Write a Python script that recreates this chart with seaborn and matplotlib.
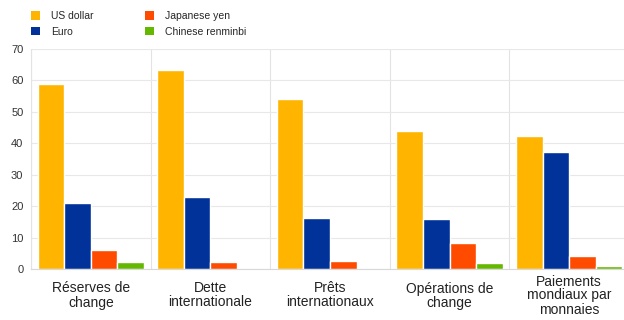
import matplotlib
matplotlib.use("Agg")
import matplotlib.pyplot as plt
import matplotlib.transforms as mtransforms
import seaborn as sns
import pandas as pd
import numpy as np
from matplotlib.patches import Patch

categories = ["Réserves de\nchange", "Dette\ninternationale", "Prêts\ninternationaux",
              "Opérations de\nchange", "Paiements\nmondiaux par\nmonnaies"]
series = ["US dollar", "Euro", "Japanese yen", "Chinese renminbi"]
usd = [59.0, 63.2, 54.1, 43.9, 42.3]
eur = [21.0, 22.8, 16.3, 16.0, 37.2]
jpy = [5.9, 2.2, 2.5, 8.3, 4.1]
cny = [2.2, 0.0, 0.0, 2.0, 1.1]
colors = ["#FFB400", "#003299", "#FF4B00", "#65B800"]

rows = []
for s, vals in zip(series, [usd, eur, jpy, cny]):
    for c, v in zip(categories, vals):
        rows.append({"cat": c, "series": s, "value": v})
df = pd.DataFrame(rows)

sns.set_style("white")
plt.rcParams['font.family'] = ['Liberation Sans', 'DejaVu Sans']

fig = plt.figure(figsize=(6.24, 3.2), dpi=100)
ax = fig.add_axes([31/624, (320-269)/320, (629-31)/624, 220/320])
sns.barplot(data=df, x="cat", y="value", hue="series", palette=colors,
            order=categories, hue_order=series, width=0.89, ax=ax,
            legend=False, saturation=1, errorbar=None)

ax.set_ylim(0, 70)
ax.set_xlim(-0.5, len(categories) - 0.5)
ax.set_yticks(np.arange(0, 71, 10))
ax.set_xticks(np.arange(-0.5, len(categories), 1.0), minor=True)
ax.grid(axis="y", color="#e8e8e8", linewidth=0.8)
ax.grid(axis="x", which="minor", color="#e3e3e3", linewidth=0.8)
ax.set_axisbelow(True)
for sp in ["top", "right"]:
    ax.spines[sp].set_visible(False)
ax.spines["left"].set_color("#e3e3e3")
ax.spines["bottom"].set_color("#d8d8d8")
ax.set_xlabel("")
ax.set_ylabel("")
ax.tick_params(axis="y", labelsize=8, length=0, pad=5.5, colors="#333333")
ax.tick_params(axis="x", which="both", length=0)
ax.set_xticklabels([""] * len(categories))

trans = mtransforms.blended_transform_factory(ax.transData, fig.transFigure)
for i, c in enumerate(categories):
    ax.text(i, 1 - 295.5/320, c, transform=trans, ha="center", va="center",
            fontsize=10, linespacing=1.0, color="#222222")

handles = [Patch(facecolor=c, edgecolor="none") for c in colors]
fig.legend(handles, series, loc="upper left", bbox_to_anchor=(29/624, 1 - 9/320),
           ncol=2, frameon=False, fontsize=7.5, handlelength=0.85, handleheight=0.85,
           handletextpad=1.05, columnspacing=5.0, labelspacing=0.55,
           borderaxespad=0, borderpad=0.2)

fig.savefig("out.png", dpi=100)
